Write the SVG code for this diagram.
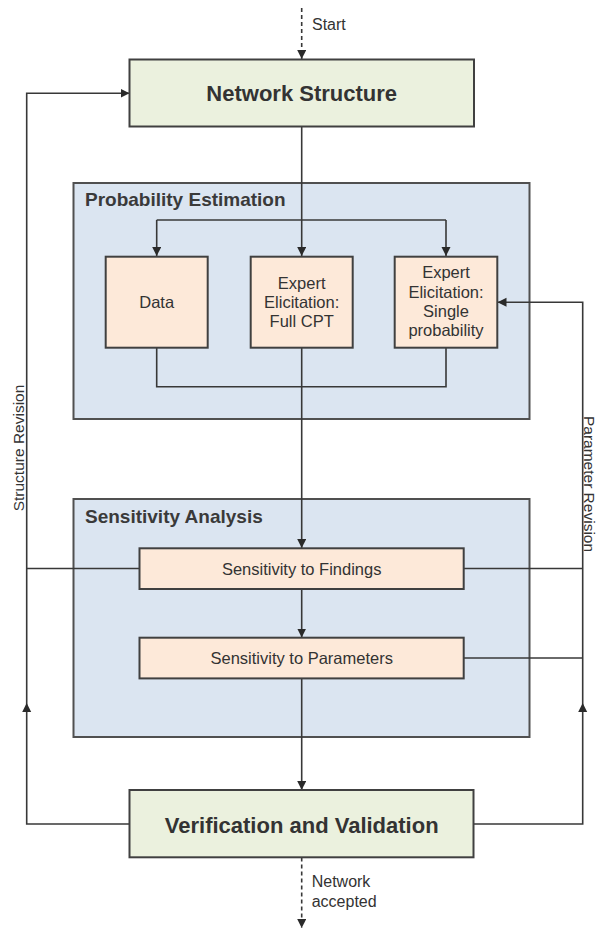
<svg xmlns="http://www.w3.org/2000/svg" width="597" height="930" viewBox="0 0 597 930">
<style>
.bg{fill:#ffffff}
.green{fill:#ebf1de;stroke:#404040;stroke-width:2}
.blue{fill:#dbe5f1;stroke:#505050;stroke-width:2}
.peach{fill:#fde9d9;stroke:#404040;stroke-width:2}
.big{font-family:"Liberation Sans",Arial,sans-serif;font-weight:bold;font-size:22px;fill:#333;text-anchor:middle}
.title{font-family:"Liberation Sans",Arial,sans-serif;font-weight:bold;font-size:19px;fill:#3a3a3a}
.lbl{font-family:"Liberation Sans",Arial,sans-serif;font-size:16.5px;fill:#333;text-anchor:middle}
.note{font-family:"Liberation Sans",Arial,sans-serif;font-size:16px;fill:#333}
.rot{font-family:"Liberation Sans",Arial,sans-serif;font-size:15.5px;fill:#333;text-anchor:middle}
.ln{fill:none;stroke:#383838;stroke-width:1.6}
.dash{fill:none;stroke:#383838;stroke-width:1.6;stroke-dasharray:4,3}
</style>
<defs>
<marker id="ah" markerUnits="userSpaceOnUse" markerWidth="10" markerHeight="10" refX="9" refY="4.5" orient="auto">
<path d="M0,0 L9,4.5 L0,9 z" fill="#2a2a2a"/>
</marker>
</defs>
<rect class="bg" x="0" y="0" width="597" height="930"/>

<g id="prob-estimation">
<rect class="blue" x="73.5" y="183" width="456" height="236"/>
<text class="title" x="85" y="206">Probability Estimation</text>
</g>
<g id="sens-analysis">
<rect class="blue" x="73.5" y="499" width="456" height="238"/>
<text class="title" x="85" y="523">Sensitivity Analysis</text>
</g>

<g id="connectors">
<path class="dash" d="M301.7,8 L301.7,59" marker-end="url(#ah)"/>
<path class="ln" d="M301.7,127 L301.7,256" marker-end="url(#ah)"/>
<path class="ln" d="M156.7,220 L446,220"/>
<path class="ln" d="M156.7,220 L156.7,256" marker-end="url(#ah)"/>
<path class="ln" d="M446,220 L446,256" marker-end="url(#ah)"/>
<path class="ln" d="M156.7,348 L156.7,386.7 L446,386.7 L446,348"/>
<path class="ln" d="M301.7,348 L301.7,548" marker-end="url(#ah)"/>
<path class="ln" d="M301.7,589 L301.7,637.5" marker-end="url(#ah)"/>
<path class="ln" d="M301.7,678.5 L301.7,790" marker-end="url(#ah)"/>
<path class="ln" d="M129.5,824 L26.7,824 L26.7,703" marker-end="url(#ah)"/>
<path class="ln" d="M26.7,703 L26.7,93.3 L129.5,93.3" marker-end="url(#ah)"/>
<path class="ln" d="M139.5,568.5 L26.7,568.5"/>
<path class="ln" d="M473.5,824 L582.7,824 L582.7,703" marker-end="url(#ah)"/>
<path class="ln" d="M582.7,703 L582.7,302.3 L497.5,302.3" marker-end="url(#ah)"/>
<path class="ln" d="M463.7,568.5 L582.7,568.5"/>
<path class="ln" d="M463.7,658 L582.7,658"/>
<path class="dash" d="M301.7,857.5 L301.7,928" marker-end="url(#ah)"/>
</g>

<g id="network-structure">
<rect class="green" x="129.5" y="59.5" width="344.5" height="67"/>
<text class="big" x="301.7" y="101">Network Structure</text>
</g>
<g id="data">
<rect class="peach" x="105.7" y="256.7" width="102" height="91"/>
<text class="lbl" x="156.7" y="308">Data</text>
</g>
<g id="expert-full-cpt">
<rect class="peach" x="250.7" y="256.7" width="102" height="91"/>
<text class="lbl" x="301.7" y="289">Expert</text>
<text class="lbl" x="301.7" y="308">Elicitation:</text>
<text class="lbl" x="301.7" y="327">Full CPT</text>
</g>
<g id="expert-single">
<rect class="peach" x="394.7" y="256.7" width="102.6" height="91"/>
<text class="lbl" x="446" y="278">Expert</text>
<text class="lbl" x="446" y="297.5">Elicitation:</text>
<text class="lbl" x="446" y="317">Single</text>
<text class="lbl" x="446" y="336">probability</text>
</g>
<g id="sens-findings">
<rect class="peach" x="139.5" y="548.3" width="324.2" height="40.7"/>
<text class="lbl" x="301.7" y="574.5">Sensitivity to Findings</text>
</g>
<g id="sens-parameters">
<rect class="peach" x="139.5" y="637.7" width="324.2" height="40.7"/>
<text class="lbl" x="301.7" y="664">Sensitivity to Parameters</text>
</g>
<g id="verification">
<rect class="green" x="129.5" y="790" width="344" height="67.3"/>
<text class="big" x="301.7" y="832.5">Verification and Validation</text>
</g>

<g id="labels">
<text class="note" x="312" y="30">Start</text>
<text class="note" x="311.7" y="887">Network</text>
<text class="note" x="311.7" y="907">accepted</text>
<text class="rot" transform="translate(24.3,448) rotate(-90)">Structure Revision</text>
<text class="rot" transform="translate(584.3,484) rotate(90)">Parameter Revision</text>
</g>
</svg>
